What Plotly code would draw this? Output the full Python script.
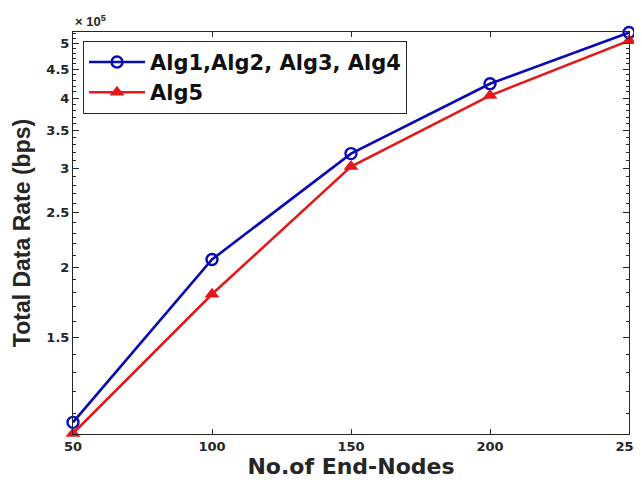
import plotly.graph_objects as go
import numpy as np

nodes = [50, 100, 150, 200, 250]
alg1234 = [1.059e5, 2.064e5, 3.185e5, 4.24e5, 5.23e5]
alg5 = [1.012e5, 1.79e5, 3.02e5, 4.04e5, 5.06e5]
ytick_vals = [1.5e5, 2e5, 2.5e5, 3e5, 3.5e5, 4e5, 4.5e5, 5e5]
ytick_text = ["1.5", "2", "2.5", "3", "3.5", "4", "4.5", "5"]
xtick_vals = [50, 100, 150, 200, 250]

FONT = "DejaVu Sans"
FONT2 = "Liberation Sans"
AX = "#262626"

fig = go.Figure()
fig.add_trace(go.Scatter(
    x=nodes, y=alg1234, mode="lines+markers", name="<b>Alg1,Alg2, Alg3, Alg4</b>",
    line=dict(color="#0a0ab4", width=2.6),
    marker=dict(symbol="circle-open", size=11, color="#0a0ab4", line=dict(width=2.4)),
    cliponaxis=False))
fig.add_trace(go.Scatter(
    x=nodes, y=alg5, mode="lines+markers", name="<b>Alg5</b>",
    line=dict(color="#e41a1a", width=2.6),
    marker=dict(symbol="triangle-up", size=13, color="#e41a1a"),
    cliponaxis=False))

minor_vals = [v * 1e4 for v in range(10, 53)]

fig.update_layout(
    width=650, height=483,
    margin=dict(l=65, r=29, t=24, b=57),
    paper_bgcolor="white", plot_bgcolor="white",
    font=dict(family=FONT, color=AX),
    showlegend=True,
    legend=dict(x=0.018, y=0.978, xanchor="left", yanchor="top",
                bgcolor="white", bordercolor=AX, borderwidth=1,
                font=dict(size=21, family=FONT, color="#111111"),
                itemwidth=56, tracegroupgap=0),
    xaxis=dict(range=[50, 250], tickvals=xtick_vals,
               ticktext=["<b>%d</b>" % v for v in xtick_vals],
               ticks="inside", ticklen=5, tickcolor=AX,
               showline=True, linecolor=AX, linewidth=1, mirror="ticks",
               showgrid=False, zeroline=False,
               tickfont=dict(size=13, family=FONT, color=AX),
               title=dict(text="<b>No.of End-Nodes</b>", font=dict(size=22, family=FONT, color=AX), standoff=6)),
    yaxis=dict(type="log",
               range=[np.log10(alg5[0]) - 0.001, np.log10(alg1234[-1]) + 0.001],
               tickvals=ytick_vals, ticktext=["<b>%s</b>" % t for t in ytick_text],
               ticks="inside", ticklen=6, tickcolor=AX,
               minor=dict(tickmode="array", tickvals=minor_vals, ticks="inside", ticklen=3, tickcolor=AX),
               showline=True, linecolor=AX, linewidth=1, mirror="ticks",
               showgrid=False, zeroline=False,
               tickfont=dict(size=13, family=FONT, color=AX),
               title=dict(text="<b>Total Data Rate (bps)</b>", font=dict(size=23, family=FONT2, color=AX), standoff=9)),
)
fig.add_annotation(x=0, y=1, xref="paper", yref="paper", xanchor="left", yanchor="bottom",
                   text="<b>× 10<sup>5</sup></b>", showarrow=False, xshift=0, yshift=1,
                   font=dict(size=13, family=FONT2, color=AX))

fig.write_html("out.html")
